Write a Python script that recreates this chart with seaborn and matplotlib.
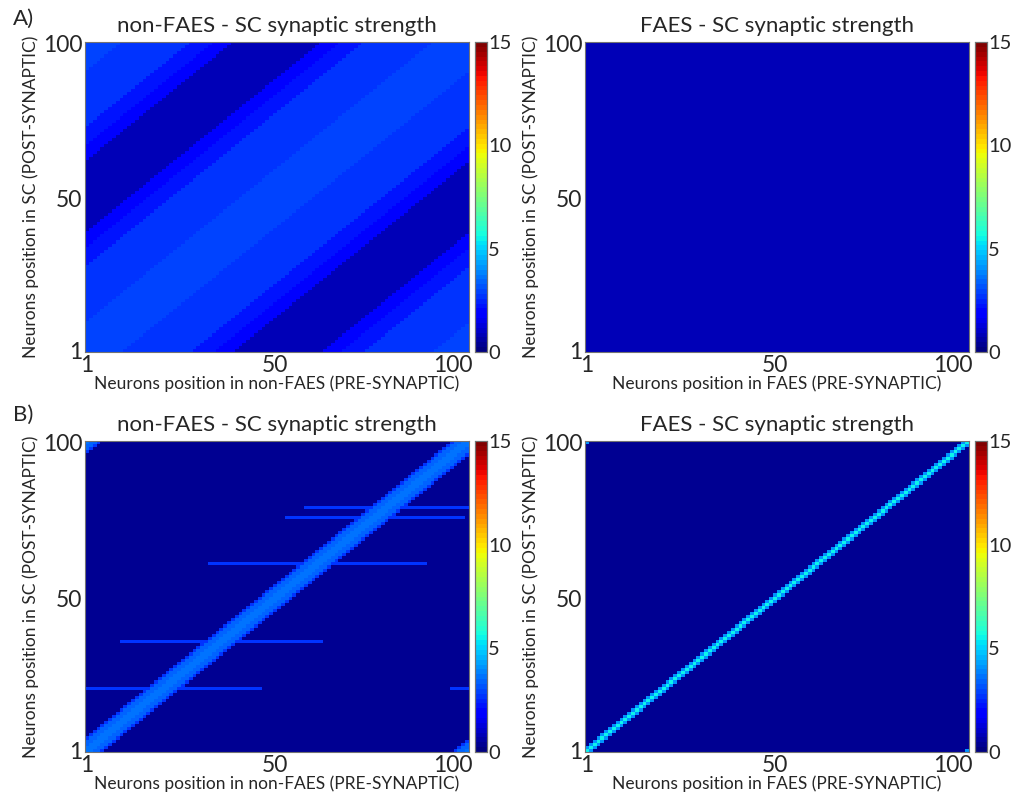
import numpy as np
import pandas as pd
import matplotlib
matplotlib.use("Agg")
import matplotlib.pyplot as plt
import matplotlib.transforms as mtrans
import seaborn as sns

sns.set_style("white")
plt.rcParams["font.family"] = ["Lato", "DejaVu Sans"]

n_neurons = 100
positions = np.arange(1, n_neurons + 1)

# A) non-FAES: strength by circular distance from the diagonal (band start -> value)
a_non_band_start = [0, 10, 20, 28, 34, 39]
a_non_band_value = [2.9, 2.8, 2.6, 2.3, 1.8, 0.8]
# A) FAES: flat weights
a_faes_value = 0.75

# B) non-FAES: wide diagonal band + a few horizontal streaks
b_non_background = 0.45
b_non_diag = [3.6, 3.6, 3.5, 3.3, 2.6]          # distance 0..4
b_non_streak_rows = [21, 36, 61, 76, 79]
b_non_streak_reach = [25, 26, 28, 23, 21]
b_non_streak_value = 2.6

# B) FAES: narrow diagonal
b_faes_background = 0.45
b_faes_diag = [5.5, 4.0]                         # distance 0..1

pos_ticks = [1, 50, 100]
minor_pos = [10, 20, 30, 40, 60, 70, 80, 90]
color_ticks = [0, 5, 10, 15]

title_text = ["non-FAES - SC synaptic strength", "FAES - SC synaptic strength"]
xlabel_text = ["Neurons position in non-FAES (PRE-SYNAPTIC)",
               "Neurons position in FAES (PRE-SYNAPTIC)"]
ylabel_text = "Neurons position in SC (POST-SYNAPTIC)"

# circular distance between post (row) and pre (column) neuron
gap = np.abs(positions[:, None] - positions[None, :])
dist = np.minimum(gap, n_neurons - gap)

band_idx = np.searchsorted(a_non_band_start, dist, side="right") - 1
a_non = np.array(a_non_band_value)[band_idx]

a_faes = np.full((n_neurons, n_neurons), a_faes_value)

b_non = np.full((n_neurons, n_neurons), b_non_background)
for row, reach in zip(b_non_streak_rows, b_non_streak_reach):
    b_non[row - 1, dist[row - 1] <= reach] = b_non_streak_value
for d, v in enumerate(b_non_diag):
    b_non[dist == d] = v

b_faes = np.full((n_neurons, n_neurons), b_faes_background)
for d, v in enumerate(b_faes_diag):
    b_faes[dist == d] = v

jet64 = plt.get_cmap("jet", 64)

W, H = 1014, 799
fig = plt.figure(figsize=(W / 100, H / 100), dpi=100)


def px_axes(x0, y0, x1, y1):
    return fig.add_axes([x0 / W, 1 - y1 / H, (x1 - x0) / W, (y1 - y0) / H])


def draw(mat, box, cbox, title, xlabel):
    ax = px_axes(*box)
    cax = px_axes(*cbox)
    df = pd.DataFrame(mat, index=positions, columns=positions)
    sns.heatmap(df, ax=ax, cbar_ax=cax, cmap=jet64, vmin=0, vmax=15,
                xticklabels=False, yticklabels=False)
    ax.invert_yaxis()
    ax.set_xticks([p - 0.5 for p in pos_ticks])
    ax.set_xticklabels([str(p) for p in pos_ticks], fontsize=16.5)
    ax.set_yticks([p - 0.5 for p in pos_ticks])
    ax.set_yticklabels([str(p) for p in pos_ticks], fontsize=16.5)
    ax.set_xticks([p - 0.5 for p in minor_pos], minor=True)
    ax.set_yticks([p - 0.5 for p in minor_pos], minor=True)
    ax.tick_params(which="both", direction="in", top=True, right=True,
                   length=3.5, width=0.6, color="0.3", pad=2)
    labs = ax.get_xticklabels()
    labs[-1].set_ha("right")
    labs[-1].set_transform(labs[-1].get_transform() +
                           mtrans.ScaledTranslation(6 / 100, 0, fig.dpi_scale_trans))
    ax.set_xlabel(xlabel, fontsize=12.5, labelpad=0)
    ax.set_ylabel(ylabel_text, fontsize=12.5, labelpad=3)
    ax.set_title(title, fontsize=16, pad=7)
    for sp in ax.spines.values():
        sp.set_visible(True)
        sp.set_linewidth(0.8)
        sp.set_color("0.45")
    cax.set_yticks(color_ticks)
    cax.tick_params(direction="in", left=True, right=True, labelright=True,
                    length=3.5, width=0.6, color="0.3", labelsize=14.5, pad=1)
    for sp in cax.spines.values():
        sp.set_visible(True)
        sp.set_linewidth(0.8)
        sp.set_color("0.45")
    return ax


draw(a_non, (85, 42, 469, 352), (475, 42, 487, 352), title_text[0], xlabel_text[0])
draw(a_faes, (585, 42, 969, 352), (975, 42, 987, 352), title_text[1], xlabel_text[1])
draw(b_non, (85, 441, 469, 752), (475, 441, 487, 752), title_text[0], xlabel_text[0])
draw(b_faes, (585, 441, 969, 752), (975, 441, 987, 752), title_text[1], xlabel_text[1])

fig.text(13 / W, 1 - 19 / H, "A)", fontsize=16, va="center", ha="left")
fig.text(13 / W, 1 - 415 / H, "B)", fontsize=16, va="center", ha="left")

fig.savefig("out.png", dpi=100)
